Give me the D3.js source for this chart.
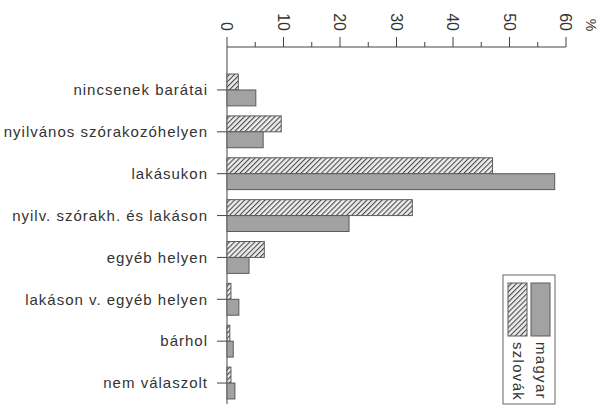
<!DOCTYPE html>
<html>
<head>
<meta charset="utf-8">
<script src="https://cdn.jsdelivr.net/npm/d3@7"></script>
<style>
  body { margin: 0; background: #fff; }
  text { font-family: "Liberation Sans", Arial, sans-serif; fill: #333; }
</style>
</head>
<body>
<svg id="chart" width="612" height="406"></svg>
<script>
var categories = ["nincsenek barátai", "nyilvános szórakozóhelyen", "lakásukon",
  "nyilv. szórakh. és lakáson", "egyéb helyen", "lakáson v. egyéb helyen",
  "bárhol", "nem válaszolt"];
var series = ["szlovák", "magyar"];
var szlovak = [2, 9.6, 47, 32.8, 6.6, 0.7, 0.5, 0.7];
var magyar = [5.1, 6.4, 58, 21.6, 3.9, 2.1, 1.1, 1.4];
var xTicks = [0, 10, 20, 30, 40, 50, 60];

var svg = d3.select("#chart");
var ink = "#444";

// hatch pattern for szlovák
var defs = svg.append("defs");
var pat = defs.append("pattern")
  .attr("id", "hatch")
  .attr("patternUnits", "userSpaceOnUse")
  .attr("width", 3.6).attr("height", 3.6)
  .attr("patternTransform", "rotate(45)");
pat.append("rect").attr("width", 3.6).attr("height", 3.6).attr("fill", "#eee");
pat.append("line").attr("x1", 0).attr("y1", 0).attr("x2", 0).attr("y2", 3.6)
  .attr("stroke", "#4a4a4a").attr("stroke-width", 2.2);

var fills = {"szlovák": "url(#hatch)", "magyar": "#a2a2a2"};

var x = d3.scaleLinear().domain([0, 60]).range([227, 566]);
var y = d3.scaleBand().domain(categories).range([64, 409]).paddingInner(0.24).paddingOuter(0.24);
var ySub = d3.scaleBand().domain(series).range([0, y.bandwidth()]);

var rows = categories.map((c, i) => ({cat: c, "szlovák": szlovak[i], "magyar": magyar[i]}));

// top axis
var axisY = 47;
var gx = svg.append("g").attr("transform", `translate(0,${axisY})`);
gx.append("line").attr("x1", x(0)).attr("x2", x(60)).attr("stroke", ink).attr("stroke-width", 1);
gx.selectAll(".minor").data(d3.range(5, 60, 10)).join("line")
  .attr("x1", d => x(d)).attr("x2", d => x(d)).attr("y1", 0).attr("y2", -5)
  .attr("stroke", ink);
gx.selectAll(".major").data(xTicks).join("line")
  .attr("x1", d => x(d)).attr("x2", d => x(d)).attr("y1", 0).attr("y2", -10)
  .attr("stroke", ink);
gx.selectAll(".lab").data(xTicks).join("text")
  .attr("transform", d => `translate(${x(d)},-16) rotate(90)`)
  .attr("text-anchor", "end")
  .attr("dy", "0.35em")
  .style("font-size", "16px")
  .text(d => d);
gx.append("text")
  .attr("transform", `translate(${x(60) + 25},-22) rotate(90)`)
  .attr("text-anchor", "middle")
  .attr("dy", "0.35em")
  .style("font-size", "14px")
  .text("%");

// vertical axis
svg.append("line").attr("x1", x(0)).attr("x2", x(0)).attr("y1", axisY).attr("y2", 404)
  .attr("stroke", ink);

var gy = svg.append("g");
gy.selectAll("line").data(categories).join("line")
  .attr("x1", x(0) - 10).attr("x2", x(0))
  .attr("y1", d => y(d) + y.bandwidth() / 2).attr("y2", d => y(d) + y.bandwidth() / 2)
  .attr("stroke", ink);
gy.selectAll("text").data(categories).join("text")
  .attr("x", x(0) - 19)
  .attr("y", d => y(d) + y.bandwidth() / 2)
  .attr("dy", "0.35em")
  .attr("text-anchor", "end")
  .style("font-size", "15px")
  .style("letter-spacing", "1px")
  .text(d => d);

// bars
var groups = svg.append("g").selectAll("g").data(rows).join("g")
  .attr("transform", d => `translate(0,${y(d.cat)})`);
groups.selectAll("rect").data(d => series.map(s => ({s: s, v: d[s]}))).join("rect")
  .attr("x", x(0))
  .attr("y", d => ySub(d.s))
  .attr("width", d => x(d.v) - x(0))
  .attr("height", ySub.bandwidth())
  .attr("fill", d => fills[d.s])
  .attr("stroke", "#5a5a5a")
  .attr("stroke-width", 1);

// legend (rotated)
var lg = svg.append("g");
lg.append("rect").attr("x", 503).attr("y", 275).attr("width", 52).attr("height", 129)
  .attr("fill", "none").attr("stroke", "#666");
var legendItems = [{s: "magyar", cx: 541}, {s: "szlovák", cx: 518}];
lg.selectAll(".sw").data(legendItems).join("rect")
  .attr("x", d => d.cx - 10).attr("y", 283).attr("width", 19).attr("height", 53)
  .attr("fill", d => fills[d.s]).attr("stroke", "#5a5a5a");
lg.selectAll("text").data(legendItems).join("text")
  .attr("transform", d => `translate(${d.cx},342) rotate(90)`)
  .attr("dy", "0.35em")
  .style("font-size", "15px")
  .style("letter-spacing", "1.3px")
  .text(d => d.s);
</script>
</body>
</html>
